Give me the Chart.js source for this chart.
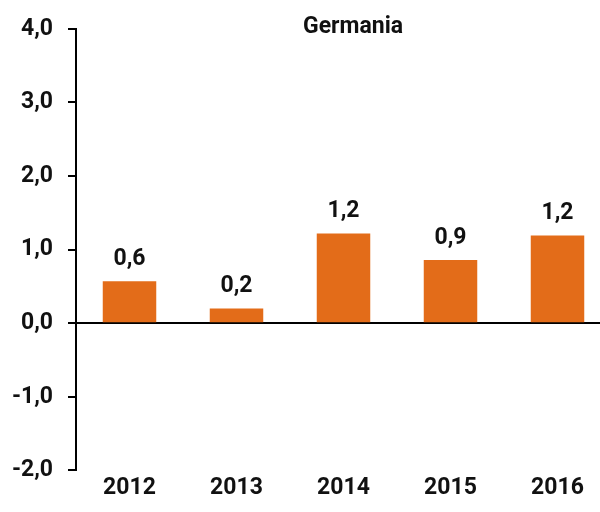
<!DOCTYPE html>
<html>
<head>
<meta charset="utf-8">
<script src="https://cdn.jsdelivr.net/npm/chart.js@4/dist/chart.umd.min.js"></script>
<style>
  html, body { margin: 0; padding: 0; background: #fff; overflow: hidden; }
  #wrap { width: 612px; height: 512px; }
</style>
</head>
<body>
<div id="wrap"><canvas id="c" width="612" height="512"></canvas></div>
<script>
const title = "Germania";
const categories = ["2012", "2013", "2014", "2015", "2016"];
const values = [0.57, 0.20, 1.22, 0.86, 1.19];
const labels = ["0,6", "0,2", "1,2", "0,9", "1,2"];
const yTicks = [-2, -1, 0, 1, 2, 3, 4];

const FONT = "Roboto";
const fmt = v => v.toFixed(1).replace('.', ',');

const valueLabels = {
  id: 'valueLabels',
  afterDatasetsDraw(chart) {
    const ctx = chart.ctx;
    const meta = chart.getDatasetMeta(0);
    ctx.save();
    ctx.font = "bold 23px " + FONT;
    ctx.fillStyle = "#111";
    ctx.textAlign = "center";
    ctx.textBaseline = "middle";
    meta.data.forEach((bar, i) => {
      ctx.fillText(labels[i], bar.x, bar.y - 22);
    });
    // title
    const a = chart.chartArea;
    ctx.font = "bold 23px " + FONT;
    ctx.fillText(title, a.left + 277, a.top - 2);
    ctx.restore();
  }
};

new Chart(document.getElementById('c'), {
  type: 'bar',
  data: {
    labels: categories,
    datasets: [{
      data: values,
      backgroundColor: '#E36C19',
      barPercentage: 0.5,
      categoryPercentage: 1.0
    }]
  },
  options: {
    responsive: false,
    animation: false,
    layout: { padding: { top: 18, left: 0, right: 1, bottom: 14 } },
    plugins: { legend: { display: false }, tooltip: { enabled: false }, title: { display: false } },
    scales: {
      x: {
        border: { display: false },
        grid: { display: false },
        ticks: { color: '#111', font: { family: FONT, weight: 'bold', size: 23 }, padding: -4 }
      },
      y: {
        min: -2, max: 4,
        afterBuildTicks(scale) { scale.ticks = yTicks.map(v => ({ value: v })); },
        afterFit(scale) { scale.width = 76; },
        border: { display: true, color: '#000', width: 2 },
        grid: {
          drawOnChartArea: true,
          color: c => (c.tick && c.tick.value === 0) ? '#000' : 'rgba(0,0,0,0)',
          lineWidth: 2,
          tickColor: '#000',
          tickWidth: 2,
          tickLength: 8,
          drawTicks: true
        },
        ticks: {
          color: '#111',
          font: { family: FONT, weight: 'bold', size: 23 },
          padding: 15,
          callback: v => fmt(v)
        }
      }
    }
  },
  plugins: [valueLabels]
});
</script>
</body>
</html>
